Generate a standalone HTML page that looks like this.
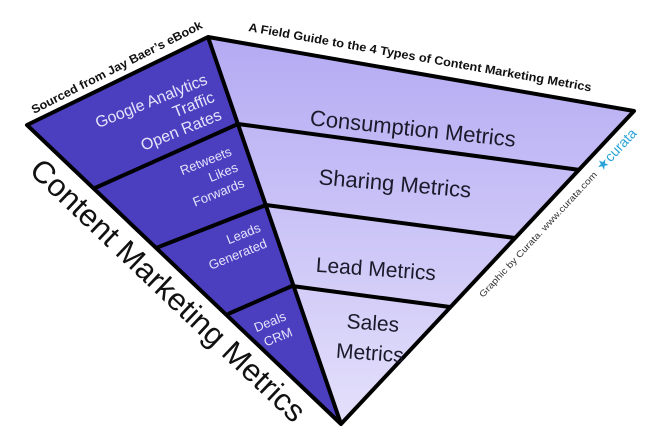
<!DOCTYPE html>
<html><head><meta charset="utf-8"><style>html,body{margin:0;padding:0;background:#fff}svg{display:block}</style></head><body>
<svg width="665" height="435" viewBox="0 0 665 435" xmlns="http://www.w3.org/2000/svg" font-family="Liberation Sans, sans-serif">
<defs>
<linearGradient id="g" x1="0" y1="0" x2="0" y2="1"><stop offset="0" stop-color="#b4aaf3"/><stop offset="1" stop-color="#e4e0fb"/></linearGradient>
</defs>
<polygon points="208,37 634,111 341,424" fill="url(#g)"/>
<polygon points="27,125 208,37 341,424" fill="#4b3fc0"/>
<g stroke="#000" stroke-width="4" fill="none" stroke-linejoin="round">
<polygon points="27,125 208,37 634,111 341,424"/>
<line x1="208" y1="37" x2="341" y2="424"/>
<polyline points="95,188 238,124 580,170"/>
<polyline points="156,248 266,205 515,238"/>
<polyline points="228,314 292,286 450,307"/>
</g>
<g fill="#e6e3fb" text-anchor="end">
<g transform="rotate(-22 200 100)">
<text x="214" y="88" font-size="16">Google Analytics</text>
<text x="214" y="107" font-size="16">Traffic</text>
<text x="214" y="126" font-size="16">Open Rates</text>
</g>
<g transform="rotate(-22 230 170)" font-size="13">
<text x="238" y="157">Retweets</text>
<text x="238" y="174">Likes</text>
<text x="238" y="191">Forwards</text>
</g>
<g transform="rotate(-22 250 240)" font-size="13">
<text x="264" y="236">Leads</text>
<text x="264" y="253">Generated</text>
</g>
<g transform="rotate(-22 275 330)" font-size="13">
<text x="290" y="325">Deals</text>
<text x="290" y="342">CRM</text>
</g>
</g>
<g fill="#1a1a2a" text-anchor="middle">
<text x="413" y="136" font-size="22" transform="rotate(6 413 128)">Consumption Metrics</text>
<text x="395" y="191" font-size="22" transform="rotate(5 395 183)">Sharing Metrics</text>
<text x="376" y="276" font-size="21" transform="rotate(4 376 268)">Lead Metrics</text>
<text x="373" y="330" font-size="21" transform="rotate(4 373 322)">Sales</text>
<text x="370" y="360" font-size="21" transform="rotate(4 370 352)">Metrics</text>
</g>
<text x="0" y="0" font-size="31" fill="#111" transform="translate(28,172) rotate(43.5)" textLength="366" lengthAdjust="spacingAndGlyphs">Content Marketing Metrics</text>
<text x="0" y="0" font-size="12" font-weight="bold" fill="#111" transform="translate(34,114) rotate(-27)" textLength="190" lengthAdjust="spacingAndGlyphs">Sourced from Jay Baer’s eBook</text>
<text x="0" y="0" font-size="12" font-weight="bold" fill="#111" transform="translate(248,31) rotate(10)" textLength="348" lengthAdjust="spacingAndGlyphs">A Field Guide to the 4 Types of Content Marketing Metrics</text>
<text x="0" y="0" font-size="9" fill="#333" transform="translate(483,298) rotate(-47)" textLength="168" lengthAdjust="spacingAndGlyphs">Graphic by Curata. www.curata.com</text>
<text x="0" y="0" font-size="14" fill="#2aa3d8" transform="translate(602,172) rotate(-47)" textLength="52" lengthAdjust="spacingAndGlyphs">★curata</text>
</svg>
</body></html>
